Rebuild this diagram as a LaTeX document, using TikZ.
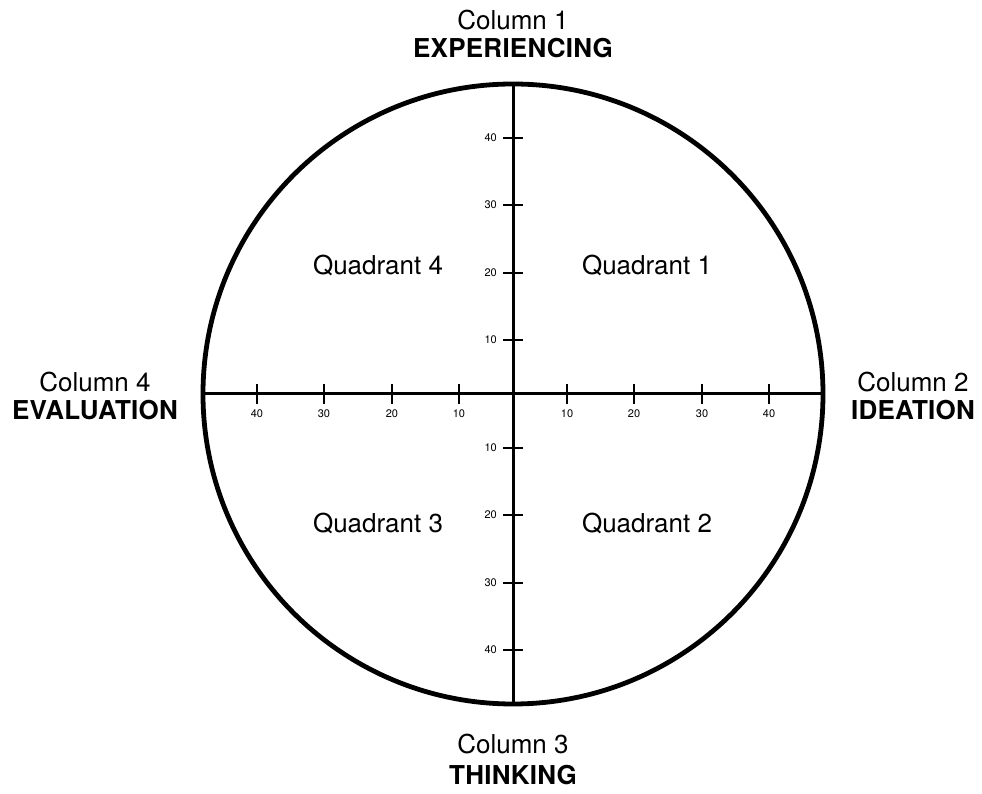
\documentclass[tikz,border=0pt]{standalone}
\usepackage{fontspec}
\setmainfont{TeX Gyre Heros}
\usetikzlibrary{positioning}
\tikzset{
  ring/.style={circle,draw=black,line width=4.8pt,minimum size=620pt,
               inner sep=0pt,outer sep=0pt},
  axis/.style={draw=black,line width=3pt},
  tick/.style={draw=black,line width=2.8pt},
  ticklbl/.style={font=\fontsize{11}{12}\selectfont,inner sep=0pt},
  collbl/.style={font=\fontsize{26}{28}\selectfont,align=center,anchor=base,
                 inner sep=0pt},
  quad/.style={font=\fontsize{26}{28}\selectfont,anchor=base,inner sep=0pt},
}
\newcommand{\capsbf}[1]{{\bfseries\addfontfeature{LetterSpace=1}#1}}

\begin{document}
\begin{tikzpicture}[x=1pt,y=1pt]
  \useasboundingbox (-513,-400) rectangle (469,394);

  \node[ring] (dial) at (0,0) {};
  \draw[axis] (dial.west) -- (dial.east);
  \draw[axis] (dial.north) -- (dial.south);

  % scale marks on both axes
  \foreach \d/\t in {54/10,121/20,189/30,256/40} {
    \coordinate (xr\t) at (\d,0);
    \coordinate (xl\t) at (-\d,0);
    \coordinate (yu\t) at (0,\d);
    \coordinate (yd\t) at (0,-\d);
    \draw[tick] ([yshift=-10pt]xr\t) -- ([yshift=10pt]xr\t);
    \draw[tick] ([yshift=-10pt]xl\t) -- ([yshift=10pt]xl\t);
    \draw[tick] ([xshift=-10pt]yu\t) -- ([xshift=10pt]yu\t);
    \draw[tick] ([xshift=-10pt]yd\t) -- ([xshift=10pt]yd\t);
    \node[ticklbl] (lxr\t) at ([yshift=-20pt]xr\t) {\t};
    \node[ticklbl] (lxl\t) at ([yshift=-20pt]xl\t) {\t};
    \node[ticklbl,anchor=east] (lyu\t) at ([xshift=-16pt]yu\t) {\t};
    \node[ticklbl,anchor=east] (lyd\t) at ([xshift=-16pt]yd\t) {\t};
  }

  \node[collbl] (col1) at (0,336) {Column 1\\\capsbf{EXPERIENCING}};
  \node[collbl] (col2) at (400,-26) {Column 2\\\capsbf{IDEATION}};
  \node[collbl] (col3) at (0,-390) {Column 3\\[3pt]\capsbf{THINKING}};
  \node[collbl] (col4) at (-418,-26) {Column 4\\\capsbf{EVALUATION}};

  \node[quad] (q1) at (134,119) {Quadrant 1};
  \node[quad] (q2) at (134,-139) {Quadrant 2};
  \node[quad] (q3) at (-135,-139) {Quadrant 3};
  \node[quad] (q4) at (-135,119) {Quadrant 4};
\end{tikzpicture}
\end{document}
